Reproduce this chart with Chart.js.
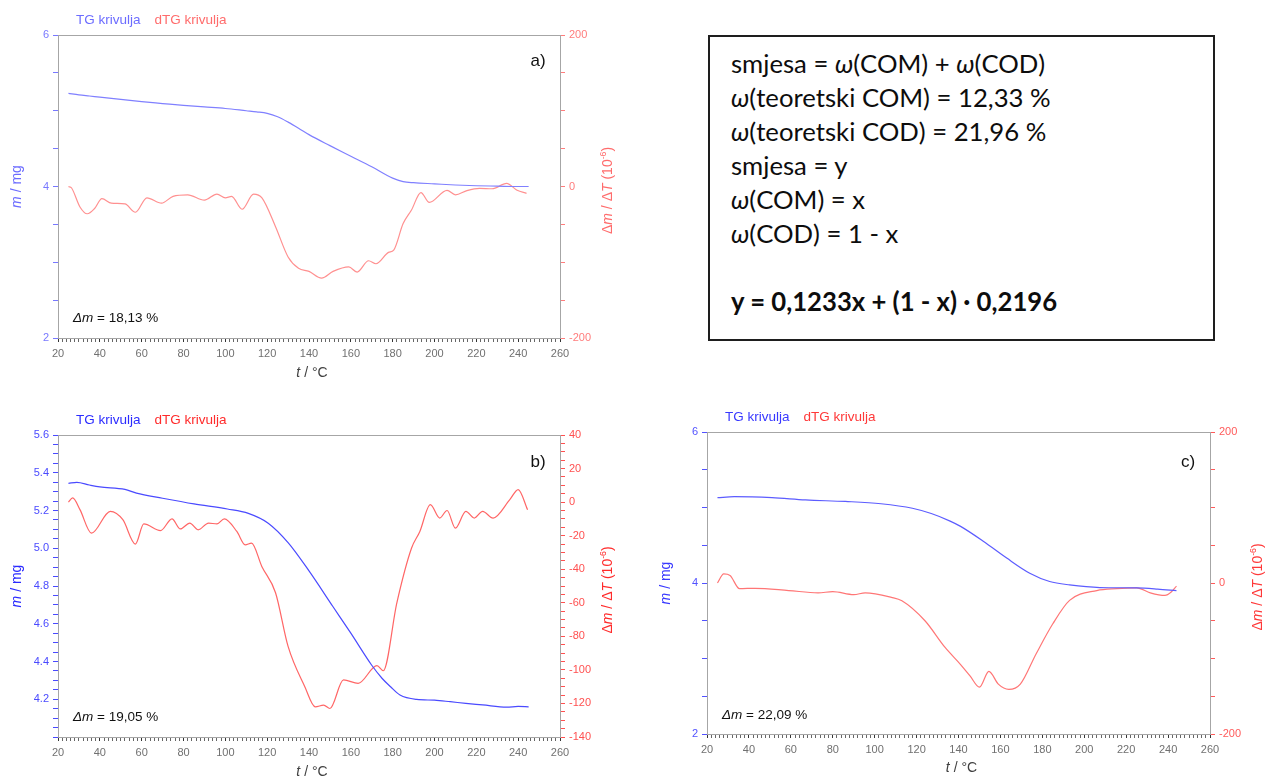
<!DOCTYPE html>
<html lang="hr">
<head>
<meta charset="utf-8">
<title>TG / dTG krivulje</title>
<script src="https://cdn.jsdelivr.net/npm/chart.js@4.4.1/dist/chart.umd.min.js"></script>
<style>
  html, body { margin: 0; padding: 0; background: #fff; }
  #page { position: relative; width: 1266px; height: 780px; overflow: hidden; }
  canvas { position: absolute; }
  #chartA { left: 0; top: 0; }
  #chartB { left: 0; top: 400px; }
  #chartC { left: 640px; top: 397px; }
  .formula {
    position: absolute; left: 708px; top: 35px; width: 507px; height: 306px;
    box-sizing: border-box; border: 2px solid #1e1e1e;
    padding: 9px 0 0 21px;
    font-family: Lato, "Open Sans", sans-serif; font-size: 25.7px; line-height: 34px; color: #0d0d0d;
  }
  .formula p { margin: 0; white-space: nowrap; }
  .formula .gap { height: 34px; }
  .formula .eq { font-weight: 700; }
</style>
</head>
<body>
<div id="page">
  <canvas id="chartA" width="625" height="390"></canvas>
  <canvas id="chartB" width="625" height="380"></canvas>
  <canvas id="chartC" width="626" height="383"></canvas>
  <div class="formula">
    <p>smjesa = <i>ω</i>(COM) + <i>ω</i>(COD)</p>
    <p><i>ω</i>(teoretski COM) = 12,33 %</p>
    <p><i>ω</i>(teoretski COD) = 21,96 %</p>
    <p>smjesa = y</p>
    <p><i>ω</i>(COM) = x</p>
    <p><i>ω</i>(COD) = 1 - x</p>
    <p class="gap"></p>
    <p class="eq">y = 0,1233x + (1 - x) · 0,2196</p>
  </div>
</div>
<script>
// a) TG krivulja (t / °C, m / mg)
const aTgT = [25, 30, 35, 40, 50, 60, 70, 80, 90, 100, 110, 115, 120, 125, 130, 135, 140, 150, 160, 170, 180, 185, 190, 200, 210, 220, 230, 240, 245];
const aTgM = [5.23, 5.21, 5.195, 5.18, 5.15, 5.12, 5.095, 5.07, 5.05, 5.03, 5.0, 4.985, 4.965, 4.92, 4.85, 4.77, 4.685, 4.54, 4.40, 4.26, 4.11, 4.065, 4.05, 4.035, 4.02, 4.01, 4.005, 4.0, 4.0];
// a) dTG krivulja
const aDtgT = [25, 26.5, 30.5, 34, 37.5, 41, 45.5, 52, 57, 62.5, 69.5, 75, 82, 90, 96, 100, 103, 108, 113.5, 117.5, 124, 130, 135, 140, 146, 151.5, 159, 163, 168.5, 172, 178, 180.5, 185, 189, 193.5, 197.5, 206, 210, 215.5, 221.5, 227.5, 234.5, 239.5, 244];
const aDtgV = [0, -2, -27, -36, -29, -16, -22, -23, -34, -15, -22, -13, -11, -18, -10, -15, -13, -30, -10, -15, -53, -93, -108, -112, -121, -112, -106, -113, -98, -102, -87, -84, -49, -31, -8, -21, -5, -11, -5.5, -2.5, -3, 4, -5, -9];

// b) TG krivulja
const bTgT = [25, 29, 35, 40, 52, 57.5, 70, 85, 101, 111, 120.5, 130, 140, 151.5, 160, 170, 175, 179, 183.5, 191.5, 200, 207.5, 215, 223, 234.5, 240, 245];
const bTgM = [5.344, 5.349, 5.335, 5.325, 5.312, 5.292, 5.265, 5.235, 5.208, 5.185, 5.133, 5.03, 4.88, 4.69, 4.55, 4.38, 4.31, 4.266, 4.222, 4.199, 4.195, 4.187, 4.178, 4.17, 4.158, 4.162, 4.16];
// b) dTG krivulja
const bDtgT = [25, 27, 30.5, 36, 45, 51, 57, 61, 69, 74.5, 78.5, 83, 87, 92, 96, 99.5, 105.5, 109.5, 112.5, 117.5, 124, 130, 138, 143, 147, 150, 156.5, 163.5, 172.5, 175.5, 182, 189, 193, 198, 202.5, 206, 210, 215, 219, 223, 228, 236, 240, 244.5];
const bDtgV = [0, 2.5, -4.5, -18.5, -5.5, -10.5, -25, -13, -17, -10, -16, -12.5, -16.5, -12.5, -13, -10, -17.5, -25.5, -24.5, -38.5, -54, -86, -110, -122, -121, -123, -106, -108, -97.5, -100.5, -60, -27.5, -17.5, -1.5, -9.5, -5, -15.5, -5.5, -9.5, -5.5, -9.5, 1.5, 7.5, -4.5];

// c) TG krivulja
const cTgT = [25, 33, 51, 67, 86, 103, 118, 127, 136, 141, 152, 163, 174, 183.5, 193, 207.5, 225, 235, 244];
const cTgM = [5.13, 5.143, 5.13, 5.1, 5.08, 5.05, 4.99, 4.92, 4.82, 4.75, 4.55, 4.33, 4.13, 4.02, 3.975, 3.94, 3.935, 3.92, 3.9];
// c) dTG krivulja
const cDtgT = [25, 28, 31, 35.5, 43, 59, 73, 80, 90, 95.5, 108, 113, 124, 133.5, 141, 145.5, 150, 154.5, 159, 164, 169.5, 177, 185, 193, 206, 215.5, 225, 231.5, 238.5, 241.5, 244];
const cDtgV = [0, 12, 10, -7.5, -7, -10, -13, -11.5, -15.5, -13, -19, -23.5, -50, -85, -108, -123, -138, -117, -134, -141, -134, -94, -54, -23, -10, -7.5, -6.5, -13, -16.5, -12, -4];

// osi i oznake
const xLabels = [20, 40, 60, 80, 100, 120, 140, 160, 180, 200, 220, 240, 260];
const mLabelsAC = [2, 4, 6];
const dLabelsAC = [-200, 0, 200];
const mLabelsB = [4.2, 4.4, 4.6, 4.8, 5.0, 5.2, 5.4, 5.6];
const dLabelsB = [-140, -120, -100, -80, -60, -40, -20, 0, 20, 40];

const FONT = '"Liberation Sans", Arial, Helvetica, sans-serif';
const FRAME = '#a6a6a6';

function pts(xs, ys) {
    return xs.map((x, i) => ({ x: x, y: ys[i] }));
}

function onList(list, v) {
    return list.some(l => Math.abs(l - v) < 1e-6);
}

// tekst s kurzivom / eksponentom
function setFont(ctx, size, r) {
    const s = r.sup ? size * 0.62 : size;
    ctx.font = (r.i ? 'italic ' : '') + s + 'px ' + FONT;
}

function runsWidth(ctx, runs, size) {
    let w = 0;
    for (const r of runs) {
        setFont(ctx, size, r);
        w += ctx.measureText(r.t).width + (r.gap || 0);
    }
    return w;
}

function drawRuns(ctx, item) {
    const w = runsWidth(ctx, item.runs, item.size);
    let x = item.align === 'center' ? -w / 2 : 0;
    ctx.textBaseline = 'middle';
    ctx.textAlign = 'left';
    for (const r of item.runs) {
        setFont(ctx, item.size, r);
        ctx.fillStyle = r.c || item.color;
        ctx.fillText(r.t, x, r.sup ? -item.size * 0.33 : 0);
        x += ctx.measureText(r.t).width + (r.gap || 0);
    }
}

const panelText = {
    id: 'panelText',
    afterDraw(chart, args, opts) {
        const { ctx, chartArea: a } = chart;
        ctx.save();
        // gornji rub okvira
        ctx.strokeStyle = FRAME;
        ctx.lineWidth = 1;
        ctx.beginPath();
        ctx.moveTo(a.left, Math.round(a.top) + 0.5);
        ctx.lineTo(a.right, Math.round(a.top) + 0.5);
        ctx.stroke();
        for (const item of opts.items || []) {
            const p = item.at(a);
            ctx.save();
            ctx.translate(p[0], p[1]);
            if (item.rotate) ctx.rotate(item.rotate);
            drawRuns(ctx, item);
            ctx.restore();
        }
        ctx.restore();
    }
};
Chart.register(panelText);

class ThermoPanels {
    constructor() {
        this.charts = {};
        this.init();
    }

    init() {
        this.charts.a = this.makePanel('chartA', {
            letter: 'a)', dm: '18,13 %',
            tg: pts(aTgT, aTgM), dtg: pts(aDtgT, aDtgV),
            mRange: [2, 6], mStep: 0.5, mLabels: mLabelsAC, mFmt: v => String(v),
            dRange: [-200, 200], dStep: 50, dLabels: dLabelsAC,
            tgLine: '#8080ff', dtgLine: '#ff9090',
            blueText: '#6c6cff', redText: '#ff6c6c', blueTick: '#7878ff', redTick: '#ff7c7c',
            leftW: 58, rightW: 65, bottomH: 52, legendDy: -15, letterDy: 26, dmDy: -20, titleDy: 35
        });
        this.charts.b = this.makePanel('chartB', {
            letter: 'b)', dm: '19,05 %',
            tg: pts(bTgT, bTgM), dtg: pts(bDtgT, bDtgV),
            mRange: [4.0, 5.6], mStep: 0.05, mLabels: mLabelsB, mFmt: v => v.toFixed(1),
            dRange: [-140, 40], dStep: 5, dLabels: dLabelsB,
            tgLine: '#4a4aff', dtgLine: '#ff6666',
            blueText: '#2b2bff', redText: '#ff2b2b', blueTick: '#4a4aff', redTick: '#ff5050',
            leftW: 58, rightW: 65, bottomH: 43, legendDy: -15, letterDy: 27, dmDy: -20, titleDy: 35
        });
        this.charts.c = this.makePanel('chartC', {
            letter: 'c)', dm: '22,09 %',
            tg: pts(cTgT, cTgM), dtg: pts(cDtgT, cDtgV),
            mRange: [2, 6], mStep: 0.5, mLabels: mLabelsAC, mFmt: v => String(v),
            dRange: [-200, 200], dStep: 50, dLabels: dLabelsAC,
            tgLine: '#5c5cff', dtgLine: '#ff7676',
            blueText: '#3838ff', redText: '#ff3838', blueTick: '#5252ff', redTick: '#ff5a5a',
            leftW: 67, rightW: 56, bottomH: 46, legendDy: -15, letterDy: 30, dmDy: -19, titleDy: 34
        });
    }

    makePanel(id, p) {
        const ctx = document.getElementById(id);
        const lblFont = { family: FONT, size: 11 };
        const legendGap = 14;

        const items = [
            // legenda
            { at: a => [a.left + 18, a.top + p.legendDy], size: 13.5, color: p.blueText,
              runs: [{ t: 'TG krivulja', gap: legendGap }, { t: 'dTG krivulja', c: p.redText }] },
            // oznaka panela
            { at: a => [a.right - 22, a.top + p.letterDy], size: 17, color: '#111', align: 'center',
              runs: [{ t: p.letter }] },
            // gubitak mase
            { at: a => [a.left + 15, a.bottom + p.dmDy], size: 13.5, color: '#111',
              runs: [{ t: 'Δ', i: true }, { t: 'm', i: true }, { t: ' = ' + p.dm }] },
            // naslov osi x
            { at: a => [(a.left + a.right) / 2 + 3, a.bottom + p.titleDy], size: 14, color: '#404040', align: 'center',
              runs: [{ t: 't', i: true }, { t: ' / °C' }] },
            // lijeva os
            { at: a => [a.left - 41, (a.top + a.bottom) / 2], rotate: -Math.PI / 2, size: 14, color: p.blueText, align: 'center',
              runs: [{ t: 'm', i: true }, { t: ' / mg' }] },
            // desna os
            { at: a => [a.right + 48, (a.top + a.bottom) / 2 + 4], rotate: -Math.PI / 2, size: 14, color: p.redText, align: 'center',
              runs: [{ t: 'Δ' }, { t: 'm', i: true }, { t: ' / Δ' }, { t: 'T', i: true }, { t: ' (10' }, { t: '-6', sup: true }, { t: ')' }] }
        ];

        return new Chart(ctx, {
            type: 'line',
            data: {
                datasets: [{
                    label: 'TG krivulja',
                    data: p.tg,
                    yAxisID: 'y',
                    borderColor: p.tgLine,
                    borderWidth: 1.2,
                    pointRadius: 0,
                    cubicInterpolationMode: 'monotone',
                    fill: false
                }, {
                    label: 'dTG krivulja',
                    data: p.dtg,
                    yAxisID: 'y1',
                    borderColor: p.dtgLine,
                    borderWidth: 1.2,
                    pointRadius: 0,
                    cubicInterpolationMode: 'monotone',
                    fill: false
                }]
            },
            options: {
                responsive: false,
                animation: false,
                events: [],
                layout: { padding: { top: 35, left: 0, right: 0, bottom: 0 } },
                plugins: {
                    legend: { display: false },
                    tooltip: { enabled: false },
                    panelText: { items: items }
                },
                scales: {
                    x: {
                        type: 'linear',
                        min: xLabels[0],
                        max: xLabels[xLabels.length - 1],
                        afterFit: s => { s.height = p.bottomH; },
                        border: { display: true, color: FRAME },
                        grid: {
                            drawOnChartArea: false,
                            tickLength: 4,
                            tickColor: c => onList(xLabels, c.tick.value) ? '#333' : '#666'
                        },
                        ticks: {
                            stepSize: 2,
                            autoSkip: false,
                            maxRotation: 0,
                            padding: 5,
                            color: '#707070',
                            font: lblFont,
                            callback: v => onList(xLabels, v) ? String(v) : ''
                        }
                    },
                    y: {
                        type: 'linear',
                        position: 'left',
                        min: p.mRange[0],
                        max: p.mRange[1],
                        afterFit: s => { s.width = p.leftW; },
                        border: { display: true, color: FRAME },
                        grid: { drawOnChartArea: false, tickLength: 5, tickColor: p.blueTick },
                        ticks: {
                            stepSize: p.mStep,
                            autoSkip: false,
                            padding: 4,
                            color: p.blueTick,
                            font: lblFont,
                            callback: v => onList(p.mLabels, v) ? p.mFmt(v) : ''
                        }
                    },
                    y1: {
                        type: 'linear',
                        position: 'right',
                        min: p.dRange[0],
                        max: p.dRange[1],
                        afterFit: s => { s.width = p.rightW; },
                        border: { display: true, color: FRAME },
                        grid: { drawOnChartArea: false, tickLength: 5, tickColor: p.redTick },
                        ticks: {
                            stepSize: p.dStep,
                            autoSkip: false,
                            padding: 4,
                            color: p.redTick,
                            font: lblFont,
                            callback: v => onList(p.dLabels, v) ? String(v) : ''
                        }
                    }
                }
            }
        });
    }
}

window.thermoPanels = new ThermoPanels();
</script>
</body>
</html>
